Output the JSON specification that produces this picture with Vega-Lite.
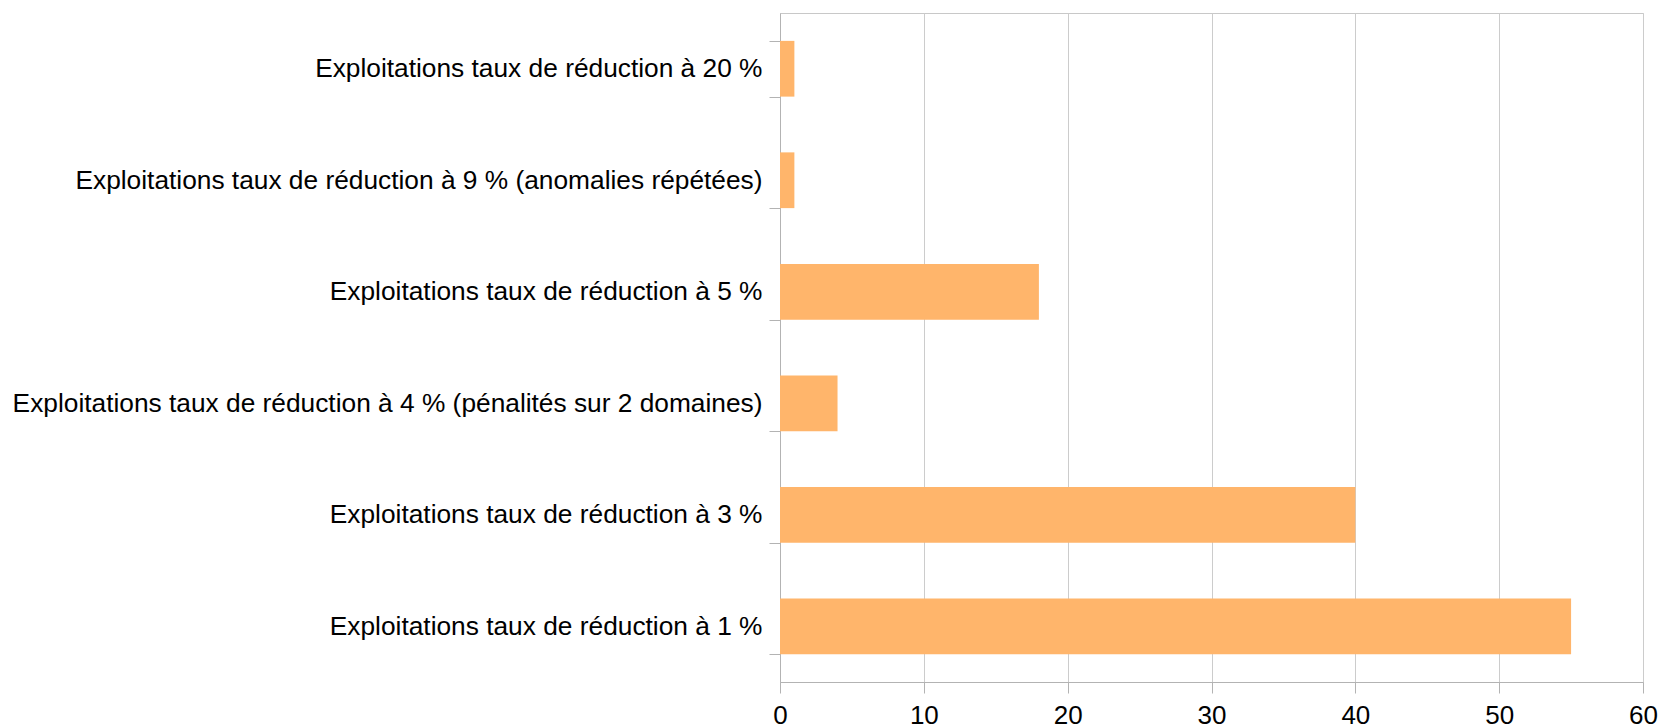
{
  "$schema": "https://vega.github.io/schema/vega-lite/v6.json",
  "autosize": "none",
  "width": 863,
  "height": 669,
  "padding": {"left": 780, "top": 13, "right": 19, "bottom": 46},
  "background": "white",
  "config": {
    "view": {"stroke": "#c8c8c8", "strokeWidth": 1},
    "font": "Liberation Sans"
  },
  "data": {
    "values": [
      {"categorie": "Exploitations taux de réduction à 20 %", "valeur": 1},
      {"categorie": "Exploitations taux de réduction à 9 % (anomalies répétées)", "valeur": 1},
      {"categorie": "Exploitations taux de réduction à 5 %", "valeur": 18},
      {"categorie": "Exploitations taux de réduction à 4 % (pénalités sur 2 domaines)", "valeur": 4},
      {"categorie": "Exploitations taux de réduction à 3 %", "valeur": 40},
      {"categorie": "Exploitations taux de réduction à 1 %", "valeur": 55}
    ]
  },
  "mark": {"type": "bar", "color": "#ffb56b"},
  "encoding": {
    "y": {
      "field": "categorie",
      "type": "nominal",
      "sort": null,
      "scale": {"paddingInner": 0.5, "paddingOuter": 0.25},
      "axis": {
        "title": null,
        "tickBand": "extent",
        "tickSize": 11,
        "tickColor": "#b3b3b3",
        "domainColor": "#b3b3b3",
        "labelFontSize": 26.3,
        "labelColor": "#000000",
        "labelPadding": 7,
        "labelLimit": 1000,
        "grid": false
      }
    },
    "x": {
      "field": "valeur",
      "type": "quantitative",
      "scale": {"domain": [0, 60], "nice": false},
      "axis": {
        "title": null,
        "values": [0, 10, 20, 30, 40, 50, 60],
        "tickSize": 11,
        "tickColor": "#b3b3b3",
        "domainColor": "#b3b3b3",
        "gridColor": "#cccccc",
        "grid": true,
        "labelFontSize": 26,
        "labelColor": "#000000",
        "labelPadding": 9,
        "labelFlush": false
      }
    }
  }
}
